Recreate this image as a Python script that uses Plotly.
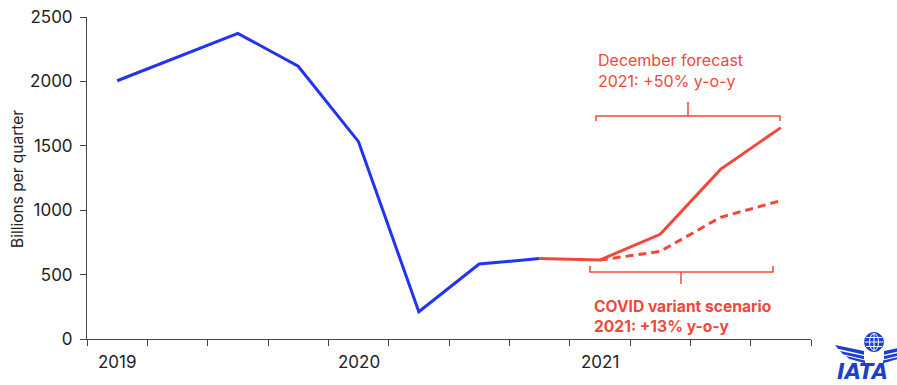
import plotly.graph_objects as go

# Quarterly passenger volumes (billions per quarter), x = quarter index centre
quarters_actual = [0.5, 1.5, 2.5, 3.5, 4.5, 5.5, 6.5, 7.5]
values_actual = [2005, 2190, 2373, 2118, 1532, 212, 582, 625]

quarters_forecast = [7.5, 8.5, 9.5, 10.5, 11.5]
values_forecast = [625, 613, 813, 1317, 1641]

quarters_variant = [8.5, 9.5, 10.5, 11.5]
values_variant = [613, 680, 945, 1074]

year_labels = ["2019", "2020", "2021"]
year_positions = [0.5, 4.5, 8.5]
y_ticks = [0, 500, 1000, 1500, 2000, 2500]

BLUE = "#2134f2"
RED = "#f0483a"
TEXT = "#222222"
FONT = "Inter"

# Plot-area pixel geometry (used for brackets and logo placement)
L, R, T, B = 87, 811, 17, 339
W, H = 897, 385


def px(xp):
    return (xp - L) / (R - L)


def py(yp):
    return (B - yp) / (B - T)


fig = go.Figure()
fig.add_trace(go.Scatter(x=quarters_actual, y=values_actual, mode="lines",
                         line=dict(color=BLUE, width=3), hoverinfo="skip"))
fig.add_trace(go.Scatter(x=quarters_forecast, y=values_forecast, mode="lines",
                         line=dict(color=RED, width=3), hoverinfo="skip"))
fig.add_trace(go.Scatter(x=quarters_variant, y=values_variant, mode="lines",
                         line=dict(color=RED, width=3, dash="8px,5px"), hoverinfo="skip"))

shapes = []
ann = []

# Bracket over the December forecast
bx0, bx1, by, tip = 596, 780, 116, 102
shapes.append(dict(type="path", xref="paper", yref="paper",
                   path=f"M {px(bx0)} {py(by+5)} L {px(bx0)} {py(by)} L {px(bx1)} {py(by)} L {px(bx1)} {py(by+5)}",
                   line=dict(color=RED, width=1.5)))
shapes.append(dict(type="line", xref="paper", yref="paper",
                   x0=px(688), x1=px(688), y0=py(by), y1=py(tip),
                   line=dict(color=RED, width=1.5)))

# Bracket under the variant scenario
cx0, cx1, cy, ctip = 590, 773, 272, 284
shapes.append(dict(type="path", xref="paper", yref="paper",
                   path=f"M {px(cx0)} {py(cy-6)} L {px(cx0)} {py(cy)} L {px(cx1)} {py(cy)} L {px(cx1)} {py(cy-6)}",
                   line=dict(color=RED, width=1.5)))
shapes.append(dict(type="line", xref="paper", yref="paper",
                   x0=px(681), x1=px(681), y0=py(cy), y1=py(ctip),
                   line=dict(color=RED, width=1.5)))

ann.append(dict(x=px(596), y=py(70), xref="paper", yref="paper", xanchor="left", yanchor="middle",
                text="December forecast<br>2021: +50% y-o-y", showarrow=False, align="left",
                font=dict(family=FONT, size=16, color=RED)))
ann.append(dict(x=px(592), y=py(316), xref="paper", yref="paper", xanchor="left", yanchor="middle",
                text="<b>COVID variant scenario<br>2021: +13% y-o-y</b>", showarrow=False, align="left",
                font=dict(family=FONT, size=15.6, color=RED)))

# Year labels under the first quarter of each year
for lbl, pos in zip(year_labels, year_positions):
    ann.append(dict(x=pos, y=py(362), xref="x", yref="paper", xanchor="center", yanchor="middle",
                    text=lbl, showarrow=False, font=dict(family=FONT, size=17, color=TEXT)))

# Y axis title
ann.append(dict(x=px(18), y=py(179), xref="paper", yref="paper", xanchor="center", yanchor="middle",
                text="Billions per quarter", textangle=-90, showarrow=False,
                font=dict(family=FONT, size=15.5, color=TEXT)))

# Logo: globe with wings and wordmark
LOGO = "#1b3fd0"
gx, gy, gr = 874, 342, 9.5
shapes.append(dict(type="circle", xref="paper", yref="paper",
                   x0=px(gx-gr), x1=px(gx+gr), y0=py(gy+gr), y1=py(gy-gr),
                   fillcolor=LOGO, line=dict(color=LOGO, width=1)))
shapes.append(dict(type="circle", xref="paper", yref="paper",
                   x0=px(gx-4.5), x1=px(gx+4.5), y0=py(gy+gr-1), y1=py(gy-gr+1),
                   line=dict(color="white", width=1)))
shapes.append(dict(type="line", xref="paper", yref="paper",
                   x0=px(gx), x1=px(gx), y0=py(gy+gr-1), y1=py(gy-gr+1),
                   line=dict(color="white", width=1)))
for dy, half in [(-4.5, 8), (0, 9.5), (4.5, 8)]:
    shapes.append(dict(type="line", xref="paper", yref="paper",
                       x0=px(gx-half), x1=px(gx+half), y0=py(gy+dy), y1=py(gy+dy),
                       line=dict(color="white", width=1)))
# Wing feathers: (inner x, outer x, inner y top, outer y top, thickness)
feathers = [(864, 835, 351, 345, 3.8), (864, 840, 356, 351, 3.2), (865, 846, 360.5, 356, 2.8)]
for ix, ox, iy, oy, th in feathers:
    for side in (-1, 1):
        ix2 = gx + side * (gx - ix)
        ox2 = gx + side * (gx - ox)
        shapes.append(dict(type="path", xref="paper", yref="paper",
                           path=(f"M {px(ix2)} {py(iy)} L {px(ox2)} {py(oy)} "
                                 f"L {px(ox2 + side * -3)} {py(oy+th)} L {px(ix2)} {py(iy+th)} Z"),
                           fillcolor=LOGO, line=dict(width=0)))
ann.append(dict(x=px(835), y=py(372), xref="paper", yref="paper", xanchor="left", yanchor="middle",
                text="<b><i>IATA</i></b>", showarrow=False,
                font=dict(family="DejaVu Sans", size=21, color=LOGO)))

fig.update_layout(
    template="none",
    width=W, height=H,
    margin=dict(l=L, r=W - R, t=T, b=H - B, pad=0, autoexpand=False),
    paper_bgcolor="white", plot_bgcolor="white",
    showlegend=False,
    shapes=shapes, annotations=ann,
    xaxis=dict(range=[0, 12], tickvals=list(range(13)), ticktext=[""] * 13,
               ticks="outside", ticklen=6, tickcolor="#444", tickwidth=1, automargin=False,
               showline=True, linecolor="#444", linewidth=1, showgrid=False, zeroline=False,
               fixedrange=True),
    yaxis=dict(range=[0, 2500], tickvals=y_ticks, ticks="outside", ticklen=6,
               tickcolor="#444", tickwidth=1, showline=True, linecolor="#444", linewidth=1,
               automargin=False, ticklabelstandoff=4,
               showgrid=False, zeroline=False, tickfont=dict(family=FONT, size=17, color=TEXT),
               fixedrange=True),
)

fig.write_html("out.html")
